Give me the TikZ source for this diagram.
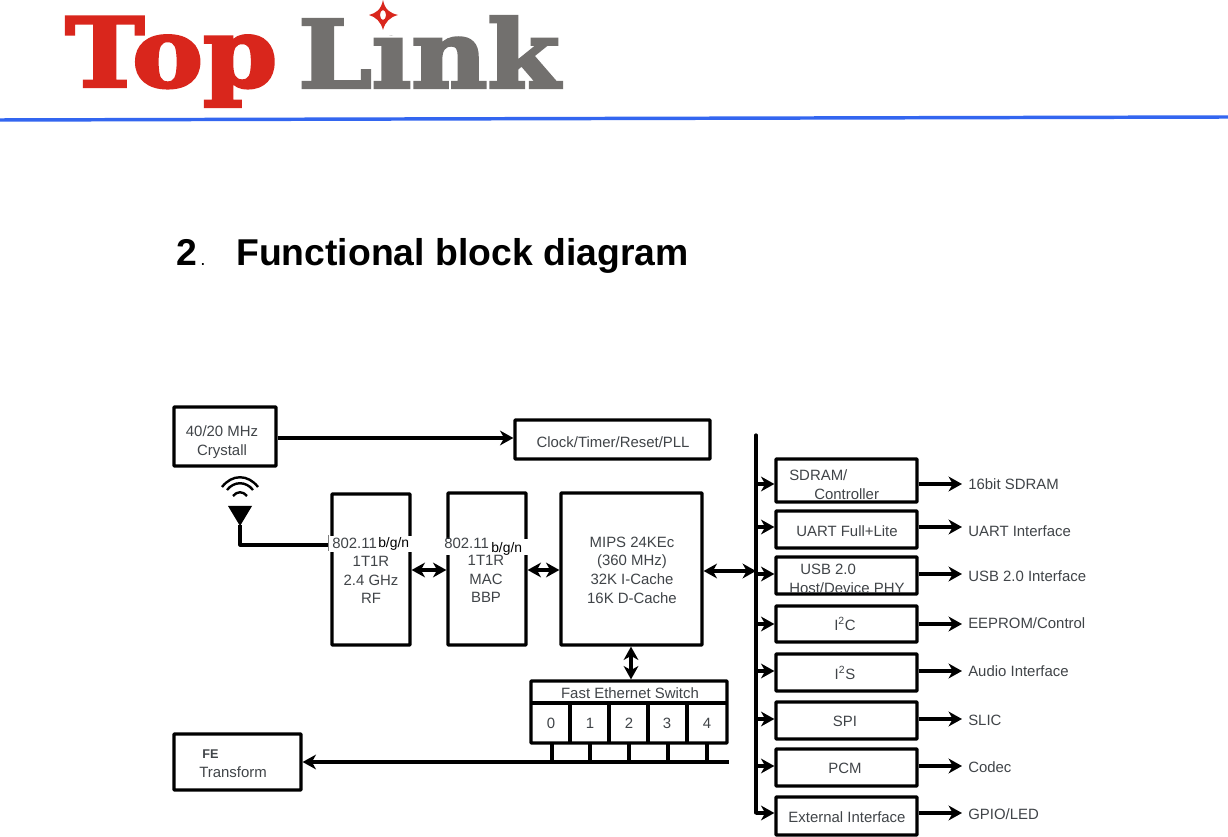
\documentclass[tikz,border=0pt]{standalone}
\usepackage{fontspec}
\usepackage{graphicx}
\setmainfont{Liberation Sans}
\newfontfamily\logofont[BoldFeatures={FakeBold=3}]{DejaVu Serif}
\usetikzlibrary{arrows.meta,calc}
\definecolor{logored}{HTML}{D9261C}
\definecolor{logogray}{HTML}{72706E}
\definecolor{rulecol}{HTML}{3366F0}
\definecolor{txt}{HTML}{404448}
\tikzset{
  box/.style={draw=black,line width=2.4pt,fill=none,inner sep=0pt,rounded corners=0.5pt},
  lbl/.style={text=txt,font=\fontsize{11.2pt}{12pt}\selectfont,inner sep=0pt,align=center},
  outlbl/.style={lbl,anchor=west},
  conn/.style={draw=black,line width=2.4pt,-{Stealth[length=10pt,width=11pt,inset=3pt]}},
  conn2/.style={draw=black,line width=2.4pt,{Stealth[length=10pt,width=11pt,inset=3pt]}-{Stealth[length=10pt,width=11pt,inset=3pt]}},
  wire/.style={draw=black,line width=2.4pt},
}
\newcommand{\pxbox}[6][box]{\node[#1,minimum width=#5*0.75pt-#3*0.75pt,minimum height=#6*0.75pt-#4*0.75pt] (#2) at ({(#3+#5)/2},{(#4+#6)/2}) {};}
\begin{document}
\begin{tikzpicture}[x=0.75pt,y=-0.75pt]
\useasboundingbox (0,0) rectangle (1228,837);
\fill[white] (0,0) rectangle (1228,837);
% logo
\node[inner sep=0pt,anchor=south west,text=logored] (top) at (65,107) {\resizebox*{159pt}{67.5pt}{\logofont\bfseries Top}};
\node[inner sep=0pt,anchor=south west,text=logogray] (link) at (298,88) {\resizebox*{196pt}{53.5pt}{\logofont\bfseries Link}};
\fill[white] (362,0) rectangle (404,35);
\fill[logored,even odd rule] (383,0) .. controls (385,10) and (390,13) .. (398,15) .. controls (390,17) and (385,22) .. (383,30) .. controls (381,22) and (376,17) .. (369,15) .. controls (376,13) and (381,10) .. (383,0) -- cycle (383,15) ellipse (3 and 5);
\draw[rulecol,line width=2.6pt] (0,120) -- (600,118.5) -- (1228,117);
% title
\node[inner sep=0pt,anchor=base west,font=\fontsize{28pt}{30pt}\selectfont\bfseries] (t2) at (176,265.5) {2};
\node[inner sep=0pt,anchor=base west,font=\fontsize{14pt}{16pt}\selectfont] (tdot) at (200,265.5) {.};
\node[inner sep=0pt,anchor=base west,font=\fontsize{28pt}{30pt}\selectfont\bfseries] (title) at (236,265.5) {Functional block diagram};
% boxes
\pxbox{crystal}{174}{407}{276}{466}
\pxbox{clock}{515}{420}{710}{459}
\pxbox{rf}{332}{494}{410}{645}
\pxbox{mac}{448}{493}{526}{645}
\pxbox{mips}{561}{493}{702}{645}
\pxbox{fe}{174}{734}{301}{790}
\pxbox{switch}{531}{681}{727}{743}
\pxbox{sdram}{776}{459}{917}{502}
\pxbox{uart}{776}{511}{917}{548}
\pxbox{usb}{776}{557}{917}{594}
\pxbox{iic}{776}{606}{917}{642}
\pxbox{iis}{776}{654}{917}{691}
\pxbox{spi}{776}{702}{917}{739}
\pxbox{pcm}{776}{749}{917}{786}
\pxbox{ext}{776}{797}{917}{835}
% switch internals
\draw[wire] (531,703) -- (727,703);
\foreach \x in {570,609,648,687} \draw[wire] (\x,703) -- (\x,743);
\foreach \x in {552,590,629,668,707} \draw[wire] (\x,743) -- (\x,762);
% patches
\fill[white] (329,536) rectangle (413,552);
\fill[white] (445,539) rectangle (529,555);
\draw[gray,line width=0.6pt] (328,535) -- (328,551);
% text
\node[lbl] (tcrystal) at (222,442) {40/20 MHz\\[2pt]Crystall};
\node[lbl] (tclock) at (613,442) {Clock/Timer/Reset/PLL};
\node[lbl,anchor=base west] (trf1) at (332,548) {802.11};
\node[inner sep=0pt,anchor=base west,font=\fontsize{10.4pt}{11pt}\selectfont] (trf2) at (378,547) {b/g/n};
\node[lbl] (trf3) at (371,580) {1T1R\\[2pt]2.4 GHz\\[2pt]RF};
\node[lbl,anchor=base west] (tmac1) at (444,549) {802.11};
\node[inner sep=0pt,anchor=base west,font=\fontsize{10.4pt}{11pt}\selectfont] (tmac2) at (491,552) {b/g/n};
\node[lbl] (tmac3) at (486,579) {1T1R\\[2pt]MAC\\[2pt]BBP};
\node[lbl] (tmips) at (632,570) {MIPS 24KEc\\[2pt](360 MHz)\\[2pt]32K I-Cache\\[2pt]16K D-Cache};
\node[lbl] (tfast) at (630,693) {Fast Ethernet Switch};
\node[lbl] (p0) at (551,723) {0};
\node[lbl] (p1) at (590,723) {1};
\node[lbl] (p2) at (629,723) {2};
\node[lbl] (p3) at (667,723) {3};
\node[lbl] (p4) at (707,723) {4};
\node[lbl,anchor=west,font=\fontsize{9.5pt}{11pt}\selectfont\bfseries] (tfe1) at (202,754) {FE};
\node[lbl,anchor=west] (tfe2) at (199,772) {Transform};
\node[lbl,anchor=west] (ts1) at (789,475) {SDRAM/};
\node[lbl,anchor=west] (ts2) at (814,494) {Controller};
\node[lbl] (tuart) at (847,531) {UART Full+Lite};
\node[lbl,anchor=west] (tu1) at (800,569) {USB 2.0};
\node[lbl,anchor=west] (tu2) at (789,588) {Host/Device PHY};
\node[lbl] (tiic) at (845,624) {I\textsuperscript{2}C};
\node[lbl] (tiis) at (845,673) {I\textsuperscript{2}S};
\node[lbl] (tspi) at (845,721) {SPI};
\node[lbl] (tpcm) at (845,768) {PCM};
\node[lbl] (text) at (847,817) {External Interface};
\node[outlbl] (o1) at (968,484) {16bit SDRAM};
\node[outlbl] (o2) at (968,531) {UART Interface};
\node[outlbl] (o3) at (968,576) {USB 2.0 Interface};
\node[outlbl] (o4) at (968,623) {EEPROM/Control};
\node[outlbl] (o5) at (968,671) {Audio Interface};
\node[outlbl] (o6) at (968,720) {SLIC};
\node[outlbl] (o7) at (968,767) {Codec};
\node[outlbl] (o8) at (968,814) {GPIO/LED};
% connectors
\coordinate (c1) at (0,438);
\draw[conn] (crystal.east |- c1) -- (clock.west |- c1);
\coordinate (c2) at (0,570);
\draw[conn2] (rf.east |- c2) -- (mac.west |- c2);
\draw[conn2] (mac.east |- c2) -- (mips.west |- c2);
\coordinate (bustop) at (756,435);
\coordinate (busbot) at (756,813);
\draw[wire,line cap=round] (bustop) -- (busbot);
\coordinate (c4) at (756,571);
\draw[conn2] (mips.east |- c4) -- (c4);
\coordinate (c5) at (631,0);
\draw[conn2] (c5 |- mips.south) -- (c5 |- switch.north);
\coordinate (c3) at (0,762);
\draw[conn] (switch.east |- c3) -- (fe.east |- c3);
\foreach \n/\y/\o in {sdram/484/o1,uart/527/o2,usb/574/o3,iic/624/o4,iis/671/o5,spi/719/o6,pcm/766/o7,ext/813/o8}{
  \coordinate (b) at (756,\y);
  \coordinate (e) at (962,\y);
  \draw[conn] (b) -- (\n.west |- b);
  \draw[conn] (\n.east |- b) -- (e);
}
% antenna
\coordinate (ant) at (240,525);
\coordinate (antend) at (328,545);
\fill[black] (228,506) -- (252,506) -- (240,526) -- cycle;
\draw[wire,line join=round] (ant) |- (antend);
\draw[line width=1.8pt] (222,487) .. controls (232,474) and (248,474) .. (258,487);
\draw[line width=1.8pt] (227,490) .. controls (234,481) and (246,481) .. (253,490);
\draw[line width=1.8pt] (233,496) .. controls (237,491) and (243,491) .. (247,496);
\end{tikzpicture}
\end{document}
